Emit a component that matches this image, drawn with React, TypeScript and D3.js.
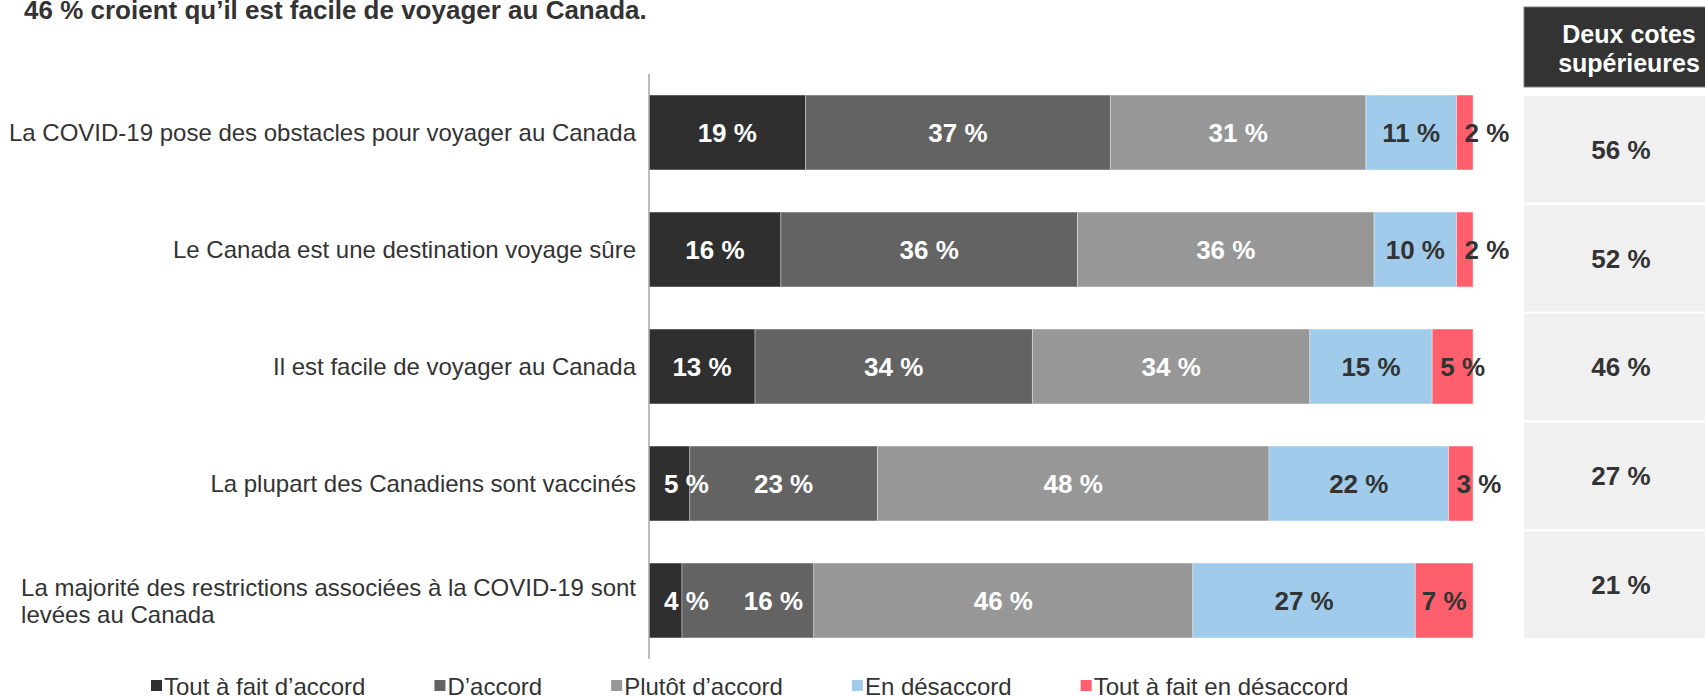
import React, { useMemo } from 'react';
import * as d3 from 'd3';

const TITLE = "46 % croient qu’il est facile de voyager au Canada.";
const categories = [
  "La COVID-19 pose des obstacles pour voyager au Canada",
  "Le Canada est une destination voyage sûre",
  "Il est facile de voyager au Canada",
  "La plupart des Canadiens sont vaccinés",
  "La majorité des restrictions associées à la COVID-19 sont levées au Canada",
];
const seriesNames = [
  "Tout à fait d’accord",
  "D’accord",
  "Plutôt d’accord",
  "En désaccord",
  "Tout à fait en désaccord",
];
const toutAFaitDAccord = [19, 16, 13, 5, 4];
const dAccord = [37, 36, 34, 23, 16];
const plutotDAccord = [31, 36, 34, 48, 46];
const enDesaccord = [11, 10, 15, 22, 27];
const toutAFaitEnDesaccord = [2, 2, 5, 3, 7];
const deuxCotesSuperieures = [56, 52, 46, 27, 21];
const columnHeader = ["Deux cotes", "supérieures"];

const seriesValues = [toutAFaitDAccord, dAccord, plutotDAccord, enDesaccord, toutAFaitEnDesaccord];
const colors = ["#2f2f2f", "#636363", "#979797", "#a1cbea", "#ff5f6d"];
const labelColors = ["#ffffff", "#ffffff", "#ffffff", "#333333", "#333333"];

const W = 1705;
const H = 697;
const FONT = "'Liberation Sans', Arial, sans-serif";

function makeMeasure() {
  const canvas = document.createElement('canvas');
  const ctx = canvas.getContext('2d')!;
  return (text: string, size: number, bold = false) => {
    ctx.font = `${bold ? 'bold ' : ''}${size}px ${FONT}`;
    return ctx.measureText(text).width;
  };
}

function wrap(text: string, maxW: number, measure: (t: string) => number) {
  const words = text.split(' ');
  const lines: string[] = [];
  let cur = '';
  for (const w of words) {
    const test = cur ? cur + ' ' + w : w;
    if (measure(test) > maxW && cur) {
      lines.push(cur);
      cur = w;
    } else cur = test;
  }
  if (cur) lines.push(cur);
  return lines;
}

export default function App() {
  const measure = useMemo(() => makeMeasure(), []);

  const x = d3.scaleLinear().domain([0, 1]).range([649, 1473]);
  const y = d3.scaleBand<string>().domain(categories).range([74, 659]).paddingInner(0.36).paddingOuter(0.18);
  const yCell = d3.scaleBand<string>().domain(categories).range([96, 638]).paddingInner(0.02);

  const rows = categories.map((cat, ri) => {
    const vals = seriesValues.map((s) => s[ri]);
    const total = d3.sum(vals);
    const stack: { x0: number; x1: number; v: number; si: number }[] = [];
    let acc = 0;
    vals.forEach((v, si) => {
      stack.push({ x0: x(acc / total), x1: x((acc + v) / total), v, si });
      acc += v;
    });
    // label placement
    let prevRight = -Infinity;
    let prevOverflow = false;
    const labels = stack.map((seg, i) => {
      const text = `${seg.v} %`;
      const w = measure(text, 26, true);
      const segW = seg.x1 - seg.x0;
      let left: number;
      let overflow = false;
      if (w + 4 <= segW) {
        left = (seg.x0 + seg.x1) / 2 - w / 2;
        if (prevOverflow && left < prevRight + 30) left = prevRight + 35;
      } else {
        overflow = true;
        left = i === 0 ? seg.x0 + 15 : seg.x0 + 8;
      }
      prevRight = left + w;
      prevOverflow = overflow;
      return { text, left, si: seg.si };
    });
    return { cat, stack, labels };
  });

  const legendItems: { x: number; name: string; color: string }[] = [];
  let lx = 151;
  seriesNames.forEach((name, i) => {
    legendItems.push({ x: lx, name, color: colors[i] });
    lx += 11 + 2 + measure(name, 24) + 69;
  });

  const headerX0 = 1524;

  return (
    <svg width={W} height={H} style={{ position: 'fixed', left: 0, top: 0, background: '#fff' }} fontFamily={FONT}>
      <text x={24} y={19} fontSize={26} fontWeight="bold" fill="#333">{TITLE}</text>

      {/* category labels */}
      {categories.map((cat) => {
        const lines = wrap(cat, 630, (t) => measure(t, 24));
        const cy = y(cat)! + y.bandwidth() / 2;
        const lh = 27;
        const maxW = d3.max(lines, (l) => measure(l, 24))!;
        const right = 636;
        const firstBase = cy + 8.7 - ((lines.length - 1) * lh) / 2;
        return (
          <g key={cat}>
            {lines.map((l, li) => (
              <text
                key={li}
                x={lines.length > 1 ? right - maxW : right}
                y={firstBase + li * lh}
                fontSize={24}
                fill="#333"
                textAnchor={lines.length > 1 ? 'start' : 'end'}
              >
                {l}
              </text>
            ))}
          </g>
        );
      })}

      {/* bars */}
      {rows.map((r) => (
        <g key={r.cat}>
          {r.stack.map((seg) => (
            <rect
              key={seg.si}
              x={seg.x0}
              y={y(r.cat)!}
              width={seg.x1 - seg.x0}
              height={y.bandwidth()}
              fill={colors[seg.si]}
              stroke="#ffffff"
              strokeOpacity={0.35}
              strokeWidth={1}
            />
          ))}
          {r.labels.map((lab) => (
            <text
              key={lab.si}
              x={lab.left}
              y={y(r.cat)! + y.bandwidth() / 2 + 9.4}
              fontSize={26}
              fontWeight="bold"
              fill={labelColors[lab.si]}
            >
              {lab.text}
            </text>
          ))}
        </g>
      ))}

      {/* axis line */}
      <line x1={x(0)} x2={x(0)} y1={74} y2={659} stroke="#a6a6a6" strokeWidth={1.5} />

      {/* right panel */}
      <rect x={headerX0} y={7} width={210} height={80} fill="#333" stroke="#7f7f7f" strokeWidth={1} />
      {columnHeader.map((t, i) => (
        <text key={t} x={headerX0 + 105} y={43 + i * 29} fontSize={25} fontWeight="bold" fill="#fff" textAnchor="middle">
          {t}
        </text>
      ))}
      {categories.map((cat, i) => (
        <g key={cat}>
          <rect x={headerX0} y={yCell(cat)!} width={194} height={yCell.bandwidth()} fill="#f0f0f0" />
          <text
            x={headerX0 + 97}
            y={yCell(cat)! + yCell.bandwidth() / 2 + 9.4}
            fontSize={26}
            fontWeight="bold"
            fill="#333"
            textAnchor="middle"
          >
            {`${deuxCotesSuperieures[i]} %`}
          </text>
        </g>
      ))}

      {/* legend */}
      {legendItems.map((it) => (
        <g key={it.name}>
          <rect x={it.x} y={680} width={11} height={11} fill={it.color} />
          <text x={it.x + 13} y={695} fontSize={24} fill="#333">{it.name}</text>
        </g>
      ))}
    </svg>
  );
}
